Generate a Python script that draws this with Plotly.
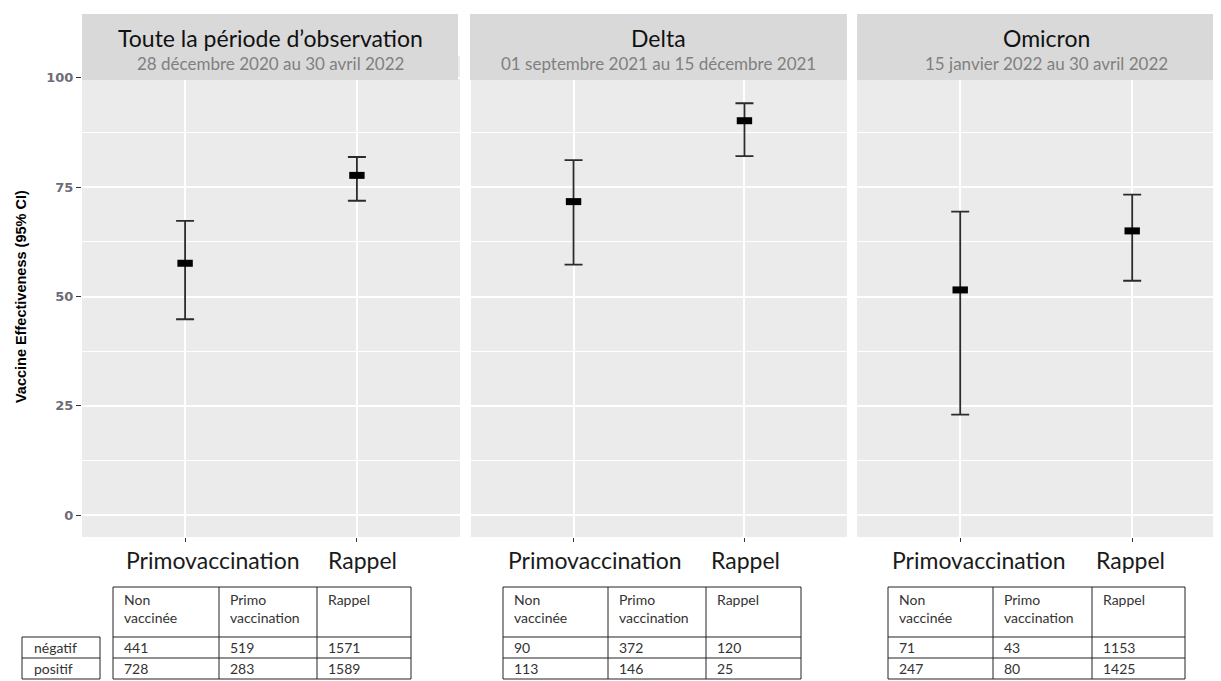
import plotly.graph_objects as go

# The page body has an 8px margin: the figure is sized so that it ends at 1221x681.
OFF = 8
W, H = 1221 - OFF, 681 - OFF

# ---------------- data ----------------
categories = ["Primovaccination", "Rappel"]

panel_titles = ["Toute la période d\u2019observation", "Delta", "Omicron"]
panel_subtitles = ["28 décembre 2020 au 30 avril 2022",
                   "01 septembre 2021 au 15 décembre 2021",
                   "15 janvier 2022 au 30 avril 2022"]

ve_all = [57.6, 77.7]
lo_all = [44.8, 71.9]
hi_all = [67.3, 81.9]

ve_delta = [71.7, 90.2]
lo_delta = [57.3, 82.1]
hi_delta = [81.2, 94.2]

ve_omicron = [51.5, 65.0]
lo_omicron = [23.0, 53.6]
hi_omicron = [69.4, 73.3]

y_ticks = [0, 25, 50, 75, 100]
y_minor = [12.5, 37.5, 62.5, 87.5]

table_header = ["Non<br>vaccinée", "Primo<br>vaccination", "Rappel"]
row_labels = ["négatif", "positif"]
neg_all = [441, 519, 1571]
pos_all = [728, 283, 1589]
neg_delta = [90, 372, 120]
pos_delta = [113, 146, 25]
neg_omicron = [71, 43, 1153]
pos_omicron = [247, 80, 1425]

# ---------------- helpers (window pixel -> paper) ----------------
def px(x):
    return (x - OFF) / W

def py(y):
    return 1 - (y - OFF) / H

panels = [
    dict(ve=ve_all, lo=lo_all, hi=hi_all, neg=neg_all, pos=pos_all,
         dom=(82, 460), rng=(0.4, 2.6), strip=(82, 458), cx=270,
         tcols=(113, 219, 317, 411), lshift=(28, 6)),
    dict(ve=ve_delta, lo=lo_delta, hi=hi_delta, neg=neg_delta, pos=pos_delta,
         dom=(471, 847), rng=(0.4, 2.6), strip=(470, 847), cx=658,
         tcols=(503, 608, 706, 801), lshift=(21, 1)),
    dict(ve=ve_omicron, lo=lo_omicron, hi=hi_omicron, neg=neg_omicron, pos=pos_omicron,
         dom=(857, 1221), rng=(0.4, 0.4 + (1221 - 857) / 172.0), strip=(857, 1221), cx=1046,
         tcols=(888, 993, 1092, 1185), lshift=(19, -2)),
]

fig = go.Figure()
xpos = [1, 2]
PANEL_TOP, PANEL_BOT = 56, 537

layout = dict(
    width=W, height=H,
    margin=dict(l=0, r=0, t=0, b=0),
    paper_bgcolor="white",
    plot_bgcolor="#ebebeb",
    showlegend=False,
)

shapes = []
annotations = []
CAL = "Lato, 'Open Sans', sans-serif"
TFONT = dict(family=CAL, size=14, color="#333333")

for i, p in enumerate(panels):
    suffix = "" if i == 0 else str(i + 1)
    xa = "x" + suffix
    ya = "y" + suffix
    ve = p["ve"]
    fig.add_trace(go.Scatter(
        x=xpos, y=ve, xaxis=xa, yaxis=ya, mode="markers",
        marker=dict(symbol="line-ew", size=11, color="black",
                    line=dict(width=7, color="black")),
        error_y=dict(type="data", symmetric=False,
                     array=[h - v for h, v in zip(p["hi"], ve)],
                     arrayminus=[v - l for v, l in zip(ve, p["lo"])],
                     color="#2b2b2b", thickness=1.8, width=9),
        hoverinfo="skip",
    ))
    layout["xaxis" + suffix] = dict(
        domain=[px(p["dom"][0]), px(p["dom"][1])], range=list(p["rng"]),
        tickmode="array", tickvals=xpos, ticktext=["", ""],
        showgrid=True, gridcolor="white", gridwidth=1.6,
        zeroline=False, showline=False,
        ticks="outside", ticklen=4, tickcolor="#333333", tickwidth=1,
        anchor=ya, fixedrange=True,
    )
    ydict = dict(
        domain=[py(PANEL_BOT), py(PANEL_TOP)], range=[-5, 105],
        tickmode="array", tickvals=y_ticks,
        showgrid=True, gridcolor="white", gridwidth=1.6,
        minor=dict(tickmode="array", tickvals=y_minor, showgrid=True,
                   gridcolor="white", gridwidth=0.8, ticks=""),
        zeroline=False, showline=False,
        anchor=xa, fixedrange=True,
    )
    if i == 0:
        ydict.update(ticks="outside", ticklen=5, tickcolor="#333333", tickwidth=1,
                     tickfont=dict(family="DejaVu Sans", size=13, color="#6c6c76",
                                   weight="bold"),
                     showticklabels=True)
    else:
        ydict.update(ticks="", showticklabels=False, matches="y")
    layout["yaxis" + suffix] = ydict

    # category labels under each panel (as placed in the reference)
    for k, cat in enumerate(categories):
        annotations.append(dict(xref=xa, yref="paper", x=xpos[k], y=py(560),
                                xshift=p["lshift"][k], text=cat, showarrow=False,
                                xanchor="center", yanchor="middle",
                                font=dict(family=CAL, size=23, color="#1a1a1a")))

    # strip header (drawn above the panel top)
    s0, s1 = p["strip"]
    shapes.append(dict(type="rect", xref="paper", yref="paper",
                       x0=px(s0), x1=px(s1), y0=py(80), y1=py(14),
                       fillcolor="#d9d9d9", line=dict(width=0), layer="above"))
    annotations.append(dict(xref="paper", yref="paper", x=px(p["cx"]), y=py(38),
                            text=panel_titles[i], showarrow=False,
                            xanchor="center", yanchor="middle",
                            font=dict(family=CAL, size=23, color="#111111")))
    annotations.append(dict(xref="paper", yref="paper", x=px(p["cx"]), y=py(63),
                            text=panel_subtitles[i], showarrow=False,
                            xanchor="center", yanchor="middle",
                            font=dict(family=CAL, size=17, color="#808080")))

    # count table
    c = p["tcols"]
    ys = (587, 637, 658, 679)
    lw = dict(color="#222222", width=1)
    for yy in ys:
        shapes.append(dict(type="line", xref="paper", yref="paper",
                           x0=px(c[0]), x1=px(c[-1]), y0=py(yy), y1=py(yy), line=lw))
    for xx in c:
        shapes.append(dict(type="line", xref="paper", yref="paper",
                           x0=px(xx), x1=px(xx), y0=py(ys[0]), y1=py(ys[-1]), line=lw))
    for j in range(3):
        annotations.append(dict(xref="paper", yref="paper", x=px(c[j] + 9), y=py(589),
                                text=table_header[j], showarrow=False, align="left",
                                xanchor="left", yanchor="top", font=TFONT))
        annotations.append(dict(xref="paper", yref="paper", x=px(c[j] + 9), y=py(647.5),
                                text=str(p["neg"][j]), showarrow=False,
                                xanchor="left", yanchor="middle", font=TFONT))
        annotations.append(dict(xref="paper", yref="paper", x=px(c[j] + 9), y=py(668.5),
                                text=str(p["pos"][j]), showarrow=False,
                                xanchor="left", yanchor="middle", font=TFONT))

# row labels box (left of first table)
lw = dict(color="#222222", width=1)
for yy in (637, 658, 679):
    shapes.append(dict(type="line", xref="paper", yref="paper",
                       x0=px(22), x1=px(100), y0=py(yy), y1=py(yy), line=lw))
for xx in (22, 100):
    shapes.append(dict(type="line", xref="paper", yref="paper",
                       x0=px(xx), x1=px(xx), y0=py(637), y1=py(679), line=lw))
for k, lab in enumerate(row_labels):
    annotations.append(dict(xref="paper", yref="paper", x=px(32), y=py([647.5, 668.5][k]),
                            text=lab, showarrow=False, xanchor="left", yanchor="middle",
                            font=TFONT))

# y-axis title
annotations.append(dict(xref="paper", yref="paper", x=px(21), y=py(297),
                        text="Vaccine Effectiveness (95% CI)", showarrow=False,
                        textangle=-90, xanchor="center", yanchor="middle",
                        font=dict(family="'Liberation Sans', Arial",
                                  size=14.5, color="black", weight="bold")))

layout["shapes"] = shapes
layout["annotations"] = annotations
fig.update_layout(**layout)

fig.write_html("out.html")
